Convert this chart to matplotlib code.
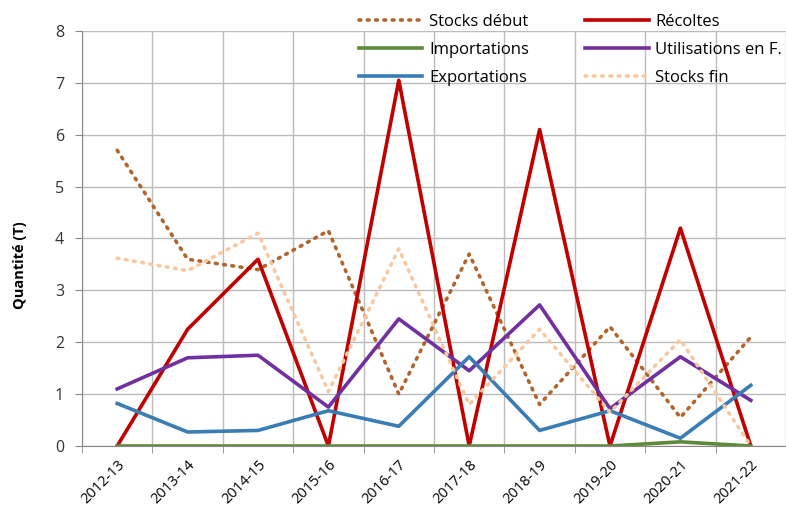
import matplotlib
matplotlib.use('Agg')
import matplotlib.pyplot as plt
import matplotlib.transforms as mtransforms
import numpy as np

plt.rcParams['font.family'] = ['Open Sans', 'DejaVu Sans']

seasons = ['2012-13', '2013-14', '2014-15', '2015-16', '2016-17',
           '2017-18', '2018-19', '2019-20', '2020-21', '2021-22']
stocks_debut = [5.7, 3.6, 3.4, 4.15, 1.0, 3.7, 0.8, 2.3, 0.55, 2.1]
recoltes = [0, 2.25, 3.6, 0, 7.05, 0, 6.1, 0, 4.2, 0]
importations = [0, 0, 0, 0, 0, 0, 0, 0, 0.08, 0]
utilisations = [1.1, 1.7, 1.75, 0.75, 2.45, 1.45, 2.72, 0.72, 1.72, 0.88]
exportations = [0.82, 0.27, 0.3, 0.68, 0.38, 1.72, 0.3, 0.68, 0.15, 1.17]
stocks_fin = [3.62, 3.38, 4.1, 1.05, 3.8, 0.8, 2.25, 0.65, 2.05, 0.0]

fig = plt.figure(figsize=(7.86, 5.17), dpi=100)
ax = fig.add_axes([82 / 786, 71 / 517, (786 - 82) / 786, (446 - 31) / 517])

x = np.arange(len(seasons))
lw = 2.6
ax.plot(x, stocks_debut, color='#B0652F', lw=lw, ls=(0, (0.5, 1.8)),
        dash_capstyle='round', label='Stocks début')
ax.plot(x, recoltes, color='#C00000', lw=lw, label='Récoltes')
ax.plot(x, importations, color='#5E8B3A', lw=lw, label='Importations')
ax.plot(x, utilisations, color='#7030A0', lw=lw, label='Utilisations en F.')
ax.plot(x, exportations, color='#3A7DB5', lw=lw, label='Exportations')
ax.plot(x, stocks_fin, color='#F8C9A0', lw=lw, ls=(0, (0.5, 1.8)),
        dash_capstyle='round', label='Stocks fin')

ax.set_xlim(-0.5, len(seasons) - 0.5)
ax.set_ylim(0, 8)
ax.set_yticks(range(0, 9))
ax.set_xticks(x)
ax.set_xticklabels(seasons, rotation=45, ha='right', rotation_mode='anchor', fontsize=10.5)
offset = mtransforms.ScaledTranslation(8 / 100, -4 / 100, fig.dpi_scale_trans)
for lab in ax.get_xticklabels():
    lab.set_transform(lab.get_transform() + offset)
ax.set_xticks(np.arange(-0.5, len(seasons), 1), minor=True)
ax.tick_params(axis='x', which='major', length=0, pad=8)
ax.tick_params(axis='x', which='minor', length=5, color='#888888', direction='out')
ax.tick_params(axis='y', length=5, color='#888888', labelsize=11.5, labelcolor='#333333', pad=8)
ax.grid(True, which='minor', axis='x', color='#BBBBBB', lw=1)
ax.grid(True, which='major', axis='y', color='#BBBBBB', lw=1)
ax.set_axisbelow(True)
for s in ['top', 'right']:
    ax.spines[s].set_visible(False)
for s in ['left', 'bottom']:
    ax.spines[s].set_color('#888888')

ax.set_ylabel('Quantité (T)', fontsize=10.5, fontweight='bold')
ax.yaxis.set_label_coords(-0.078, 0.436)

handles, labels = ax.get_legend_handles_labels()
order = [0, 2, 4, 1, 3, 5]
ax.legend([handles[i] for i in order], [labels[i] for i in order],
          ncol=2, loc='upper left', bbox_to_anchor=(0.372, 1.078),
          frameon=False, handlelength=3.8, labelspacing=0.72,
          columnspacing=3.4, handletextpad=0.4, prop={'size': 12})

fig.savefig('out.png', dpi=100, facecolor='white')
